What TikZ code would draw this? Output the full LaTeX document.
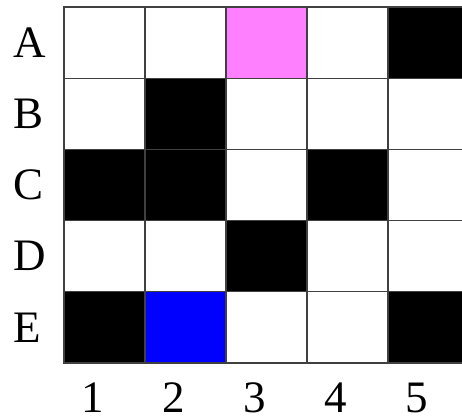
\documentclass[tikz,border=0pt]{standalone}
\usepackage{fontspec}
\setmainfont{Liberation Serif}
\usetikzlibrary{positioning}
\definecolor{GridLine}{HTML}{404040}
\definecolor{Pink}{HTML}{FF80FF}
\definecolor{Blue}{HTML}{0000FF}

\begin{document}
\begin{tikzpicture}[x=81pt,y=71.2pt,
    cell/.style={draw=GridLine,line width=1.3pt,minimum width=81pt,
      minimum height=71.2pt,inner sep=0pt,outer sep=0pt},
    lbl/.style={inner sep=0pt,font=\fontsize{45}{50}\selectfont}]
        \useasboundingbox (-0.79,0.098) rectangle (4.914,-5.787);
        \clip (-0.79,0.098) rectangle (4.914,-5.787);

        % cells, row by row
        \foreach \r/\row in {1/A,2/B,3/C,4/D,5/E}
          \foreach \c in {1,...,5}
            \node[cell,fill=white] (\row\c) at (\c-0.5,-\r+0.5) {};

        % filled cells
        \foreach \n in {A5,B2,C1,C2,C4,D3,E1,E5}
          \node[cell,fill=black] at (\n) {};
        \node[cell,fill=Pink] at (A3) {};
        \node[cell,fill=Blue] at (E2) {};

        % labels
        \foreach \row in {A,B,C,D,E}
          \node[lbl,anchor=west] (lab\row) at (-0.63,0 |- \row1) {\row};
        \foreach \c in {1,...,5}
          \node[lbl] (num\c) at (\c-0.65,-5.49) {\c};
\end{tikzpicture}
\end{document}
